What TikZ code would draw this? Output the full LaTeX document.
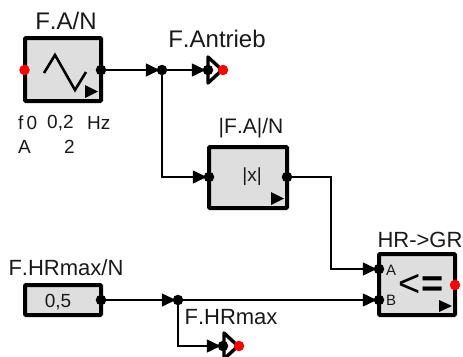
\documentclass[tikz,border=0pt]{standalone}
\usepackage{fontspec}
\setmainfont[Kerning=Off]{Liberation Sans}
\usetikzlibrary{arrows.meta}
\definecolor{blockgray}{RGB}{222,222,222}
\tikzset{
  x=1pt,y=-1pt,
  block/.style={draw=black,fill=blockgray,line width=4pt,rounded corners=1pt,inner sep=0pt,outer sep=0pt},
  port/.style={circle,fill=black,draw=none,minimum size=10.5pt,inner sep=0pt,outer sep=0pt},
  redport/.style={circle,fill=red,draw=none,minimum size=10.5pt,inner sep=0pt,outer sep=0pt},
  lbl/.style={font=\fontsize{22}{24}\selectfont,inner sep=0pt,text=black!90},
  lblwide/.style={font=\fontsize{24}{26}\selectfont,inner sep=0pt,text=black!90},
  small/.style={font=\fontsize{19}{21}\selectfont,inner sep=0pt,text=black!90},
  wire/.style={draw=black,line width=1.5pt},
  tip/.style={wire,shorten >=-3pt,-{Triangle[length=14pt,width=13pt,inset=0pt]}},
  runmark/.style={fill=black,draw=none},
  chev/.style={draw=black,fill=white,line width=3.4pt,line join=round},
}
\begin{document}
\begin{tikzpicture}
\useasboundingbox (0,0) rectangle (463,356);
% blocks
\node[block,minimum width=76pt,minimum height=63pt] (gen) at (63,69.5) {};
\node[block,minimum width=78pt,minimum height=61pt] (abs) at (248,177.5) {};
\node[block,minimum width=76pt,minimum height=61pt] (cmp) at (417,284.5) {};
\node[block,minimum width=76pt,minimum height=30pt] (const) at (63,300) {};
% generator symbol
\draw[line width=2.6pt,line join=miter] (44,73) -- (55,55) -- (75,90) -- (86,72);
\fill[runmark] (85,85) -- (98,91.5) -- (85,98) -- cycle;
\fill[runmark] (271,192) -- (284,198.5) -- (271,205) -- cycle;
\fill[runmark] (439,300) -- (452,306) -- (439,312) -- cycle;
% output symbols
\draw[chev] (208,57) -- (222,70) -- (208,83) -- cycle;
\draw[chev] (224,333) -- (238,346) -- (224,359) -- cycle;
% ports
\node[redport] (genin) at (24.5,70) {};
\node[port] (genout) at (101,70) {};
\node[port] (j1) at (162,70) {};
\node[port] (o1in) at (208,70) {};
\node[redport] (o1) at (223,70) {};
\node[port] (absin) at (209,177) {};
\node[port] (absout) at (287,177) {};
\node[port] (cmpa) at (379,269) {};
\node[port] (cmpb) at (379,300) {};
\node[redport] (cmpout) at (455,285) {};
\node[port] (constout) at (101,300) {};
\node[port] (j2) at (178,300) {};
\node[port] (o2in) at (223,346) {};
\node[redport] (o2) at (239,346) {};
% wires
\draw[tip] (genout) -- (j1);
\draw[tip] (j1) -- (o1in);
\draw[tip] (j1) |- (absin);
\draw[tip] (absout) -| (331,269) -- (cmpa);
\draw[tip] (constout) -- (j2);
\draw[tip] (j2) -- (cmpb);
\draw[tip] (j2) |- (o2in);
% labels
\node[lblwide] (t1) at (66,21) {F.A/N};
\node[lblwide] (t2) at (217,39) {F.Antrieb};
\node[lbl,font=\fontsize{21}{23}\selectfont] (t3) at (251,128) {|F.A|/N};
\node[lbl] (t4) at (420,239.5) {HR->GR};
\node[lbl] (t5) at (66,268) {F.HRmax/N};
\node[lbl] (t6) at (231,317) {F.HRmax};
\node[small] (t7) at (58,302) {0,5};
\node[small] (t8) at (252,177) {|x|};
\node[small,font=\fontsize{15}{17}\selectfont] (t9) at (391,270) {A};
\node[small,font=\fontsize{15}{17}\selectfont] (t10) at (391,300) {B};
\node[font=\fontsize{38}{40}\selectfont,inner sep=0pt] (t11) at (421,285) {<{\bfseries=}};
\node[small,anchor=west] (t12) at (18,123) {f\,0};
\node[small,anchor=west] (t13) at (47,123) {0,2};
\node[small,anchor=west] (t14) at (87,123) {Hz};
\node[small,anchor=west] (t15) at (18,147) {A};
\node[small,anchor=west] (t16) at (64,147) {2};
\end{tikzpicture}
\end{document}
